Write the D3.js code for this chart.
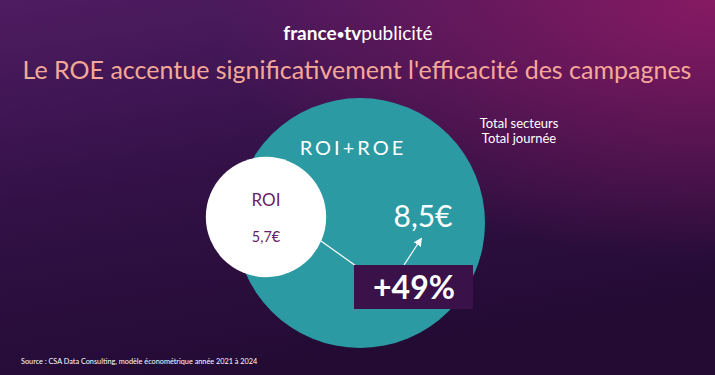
<!DOCTYPE html>
<html>
<head>
<meta charset="utf-8">
<script src="https://cdn.jsdelivr.net/npm/d3@7"></script>
<style>
  html, body { margin: 0; padding: 0; background: #2a0e3c; }
  svg { display: block; font-family: "Lato", "Open Sans", sans-serif; }
</style>
</head>
<body>
<svg id="chart" width="715" height="375"></svg>
<script>
// values
var labels = ["ROI", "ROI+ROE"];
var values = [5.7, 8.5];
var valueText = ["5,7€", "8,5€"];
var uplift = "+49%";
var scopeLines = ["Total secteurs", "Total journée"];

var width = 715, height = 375;
var svg = d3.select("#chart");

// background
var defs = svg.append("defs");
var bg = defs.append("linearGradient").attr("id", "bg")
    .attr("x1", "0").attr("y1", "0").attr("x2", "0.3").attr("y2", "1");
bg.append("stop").attr("offset", "0").attr("stop-color", "#4f1c62");
bg.append("stop").attr("offset", "0.5").attr("stop-color", "#331147");
bg.append("stop").attr("offset", "1").attr("stop-color", "#230b34");
var glow = defs.append("radialGradient").attr("id", "glow")
    .attr("cx", "1").attr("cy", "0").attr("r", "0.7");
glow.append("stop").attr("offset", "0").attr("stop-color", "#8a1a64").attr("stop-opacity", 0.95);
glow.append("stop").attr("offset", "1").attr("stop-color", "#8a1a64").attr("stop-opacity", 0);

svg.append("rect").attr("width", width).attr("height", height).attr("fill", "url(#bg)");
svg.append("rect").attr("width", width).attr("height", height).attr("fill", "url(#glow)");

// header
var logo = svg.append("text")
    .attr("x", 358).attr("y", 40)
    .attr("text-anchor", "middle")
    .attr("fill", "#fff")
    .style("font-size", "19px");
logo.append("tspan").attr("font-weight", 700).text("france");
logo.append("tspan").attr("font-weight", 700).style("font-size", "13px").attr("dy", -1).text("•");
logo.append("tspan").attr("font-weight", 700).attr("dy", 1).text("tv");
logo.append("tspan").attr("font-weight", 400).text("publicité");

svg.append("text")
    .attr("x", 357).attr("y", 79)
    .attr("text-anchor", "middle")
    .attr("fill", "#f5a898")
    .style("font-size", "25px")
    .text("Le ROE accentue significativement l'efficacité des campagnes");

// radius scale
var r = d3.scaleLinear().domain([3.1, 8.5]).range([0, 125]);

var big = { x: 360, y: 223 };
var small = { x: 266, y: 217 };

svg.append("circle")
    .attr("cx", big.x).attr("cy", big.y).attr("r", r(values[1]))
    .attr("fill", "#2b9aa2");

svg.append("circle")
    .attr("cx", small.x).attr("cy", small.y).attr("r", r(values[0]))
    .attr("fill", "#ffffff");

svg.append("text")
    .attr("x", 353).attr("y", 155)
    .attr("text-anchor", "middle")
    .attr("fill", "#fff")
    .attr("letter-spacing", "3px")
    .style("font-size", "20px")
    .text(labels[1]);

svg.append("text")
    .attr("x", small.x).attr("y", 206)
    .attr("text-anchor", "middle")
    .attr("fill", "#6a1d68")
    .style("font-size", "17px")
    .text(labels[0]);

svg.append("text")
    .attr("x", small.x).attr("y", 242)
    .attr("text-anchor", "middle")
    .attr("fill", "#6a1d68")
    .style("font-size", "14.5px")
    .text(valueText[0]);

svg.append("text")
    .attr("x", 423).attr("y", 227)
    .attr("text-anchor", "middle")
    .attr("fill", "#fff")
    .style("font-size", "30px")
    .text(valueText[1]);

// connector and arrow
defs.append("marker").attr("id", "arrow")
    .attr("viewBox", "0 0 10 10").attr("refX", 8).attr("refY", 5)
    .attr("markerWidth", 7).attr("markerHeight", 7)
    .attr("orient", "auto")
  .append("path").attr("d", "M0,0L10,5L0,10z").attr("fill", "#fff");

svg.append("line")
    .attr("x1", 321).attr("y1", 241).attr("x2", 356).attr("y2", 266)
    .attr("stroke", "#fff").attr("stroke-width", 1.2);

svg.append("line")
    .attr("x1", 404).attr("y1", 265).attr("x2", 421).attr("y2", 239)
    .attr("stroke", "#fff").attr("stroke-width", 1.2)
    .attr("marker-end", "url(#arrow)");

svg.append("rect")
    .attr("x", 354).attr("y", 265).attr("width", 119).attr("height", 44)
    .attr("fill", "#3a1149");

svg.append("text")
    .attr("x", 414).attr("y", 299)
    .attr("text-anchor", "middle")
    .attr("fill", "#fff")
    .attr("font-weight", 700)
    .style("font-size", "32px")
    .text(uplift);

svg.selectAll(".scope")
    .data(scopeLines)
  .enter().append("text")
    .attr("class", "scope")
    .attr("x", 519)
    .attr("y", function(d, i) { return 128 + i * 15; })
    .attr("text-anchor", "middle")
    .attr("fill", "#fff")
    .style("font-size", "13px")
    .text(function(d) { return d; });

svg.append("text")
    .attr("x", 21).attr("y", 364)
    .attr("fill", "#fff")
    .style("font-size", "7.3px")
    .text("Source : CSA Data Consulting, modèle économétrique année 2021 à 2024");
</script>
</body>
</html>
